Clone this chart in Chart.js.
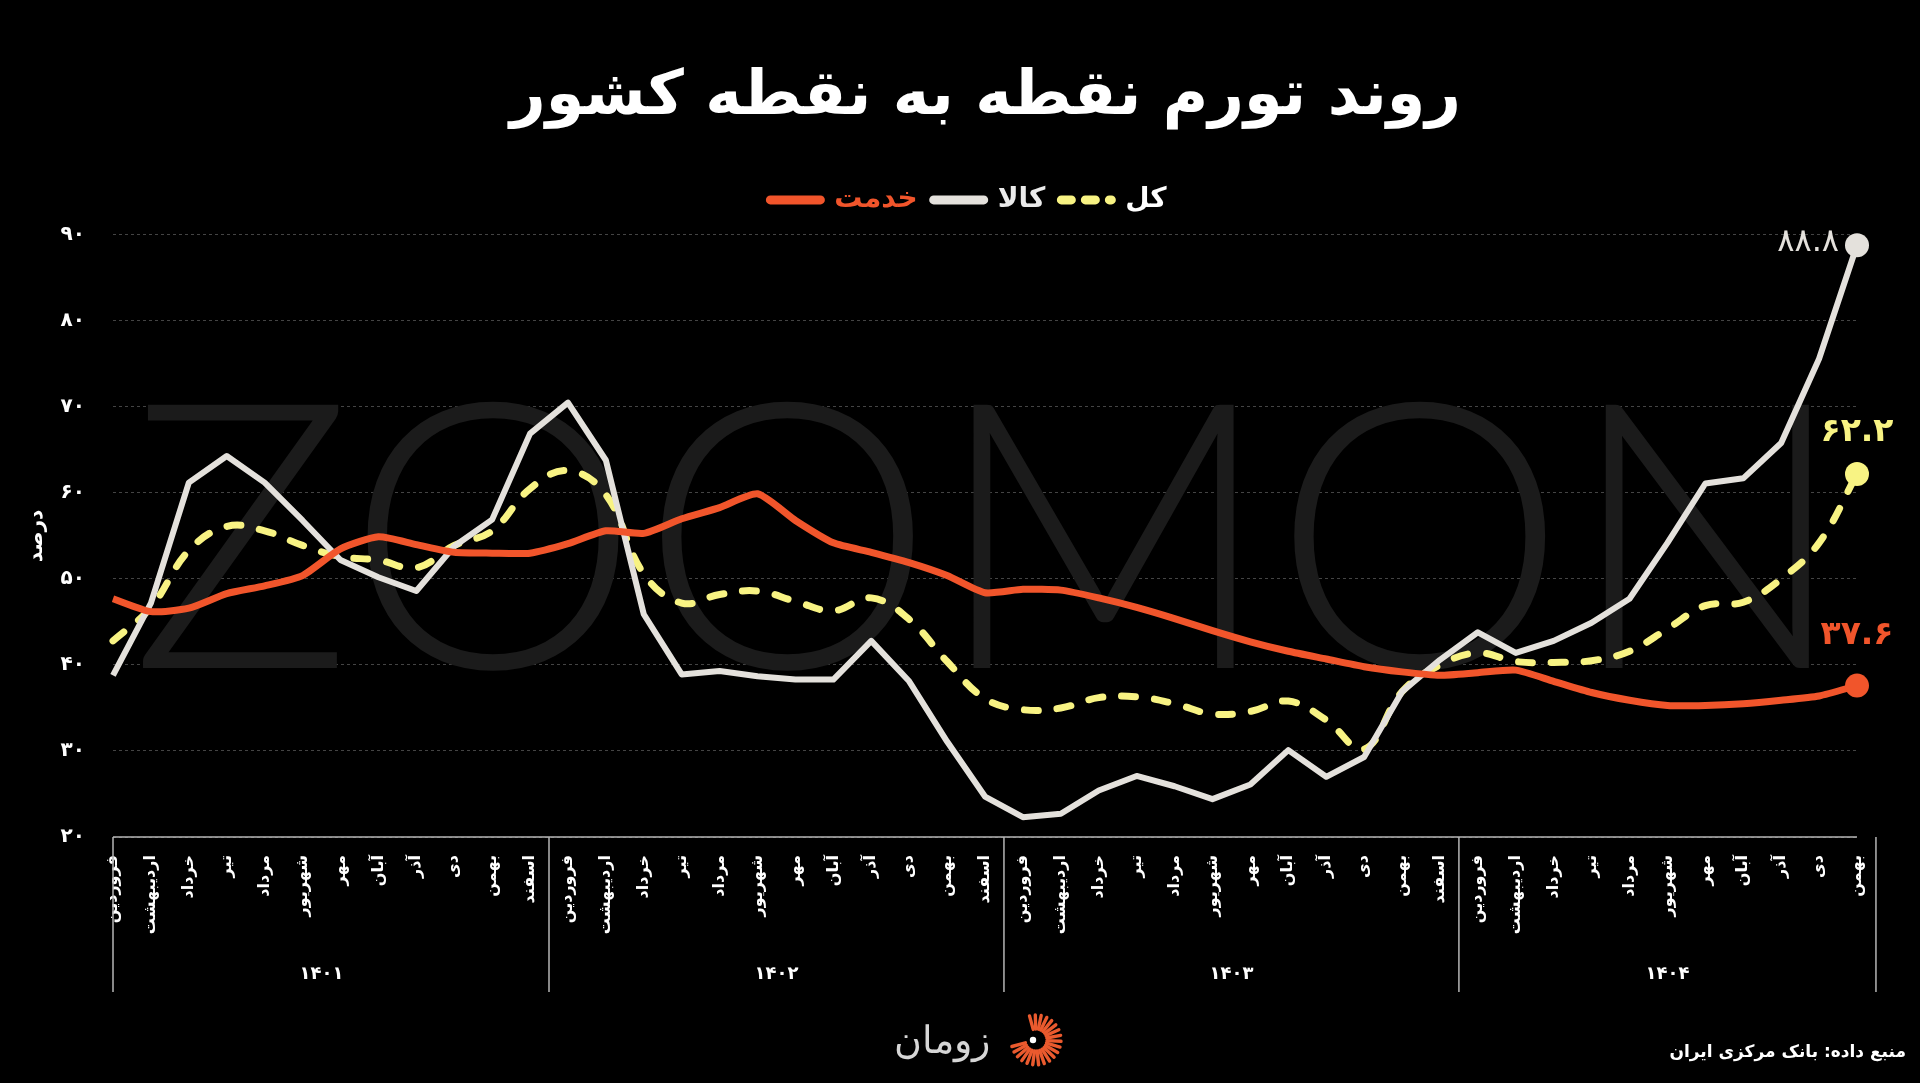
<!DOCTYPE html>
<html lang="fa">
<head>
<meta charset="utf-8">
<script src="https://cdn.jsdelivr.net/npm/chart.js@4.4.1/dist/chart.umd.min.js"></script>
<style>
  html, body { margin: 0; padding: 0; background: #000; overflow: hidden; }
  #wrap { position: relative; width: 1920px; height: 1083px; overflow: hidden; }
  canvas { display: block; }
  .logo { position: absolute; left: 894px; top: 1010px; height: 60px; display: flex; align-items: center; gap: 18px; }
  .logo span { font-family: 'DejaVu Sans', sans-serif; font-weight: 300; font-size: 38px; color: #d6d6d6; }
  .source { position: absolute; right: 14px; top: 1041px; white-space: nowrap; direction: rtl; font-family: 'DejaVu Sans', sans-serif; font-weight: bold; font-size: 17px; color: #fff; }
</style>
</head>
<body>
<div id="wrap">
  <canvas id="chart" width="1920" height="1083"></canvas>
  <div class="logo"><span>زومان</span><svg id="logoIcon" width="56" height="56" viewBox="-28 -28 56 56"></svg></div>
  <div class="source">منبع داده: بانک مرکزی ایران</div>
</div>
<script>
// سال‌ها و ماه‌ها
const years = ['۱۴۰۱', '۱۴۰۲', '۱۴۰۳', '۱۴۰۴'];
const monthsPerYear = [12, 12, 12, 11];
const months = ['فروردین', 'اردیبهشت', 'خرداد', 'تیر', 'مرداد', 'شهریور', 'مهر', 'آبان', 'آذر', 'دی', 'بهمن', 'اسفند'];

// تورم نقطه به نقطه (درصد)
const serviceValues = [
  47.7, 46.2, 46.6, 48.3, 49.2, 50.4, 53.5, 54.9, 54.0, 53.1, 53.0, 53.0,
  54.1, 55.6, 55.3, 57.0, 58.3, 59.9, 56.8, 54.2, 53.1, 51.9, 50.4, 48.4,
  48.8, 48.7, 47.8, 46.7, 45.4, 44.0, 42.7, 41.6, 40.7, 39.8, 39.2, 38.8,
  39.1, 39.4, 38.1, 36.8, 35.9, 35.3, 35.3, 35.5, 35.9, 36.4, 37.6
];
const goodsValues = [
  38.8, 47.2, 61.2, 64.3, 61.2, 56.8, 52.2, 50.2, 48.6, 53.8, 56.9, 66.9,
  70.5, 63.8, 45.9, 38.9, 39.3, 38.7, 38.3, 38.3, 42.8, 38.1, 31.1, 24.7,
  22.3, 22.7, 25.4, 27.1, 25.9, 24.4, 26.1, 30.1, 27.0, 29.3, 36.9, 40.6,
  43.8, 41.4, 42.8, 44.9, 47.7, 54.2, 61.1, 61.7, 65.8, 75.6, 88.8
];
const totalValues = [
  42.8, 46.7, 53.3, 56.1, 55.6, 53.9, 52.6, 52.2, 51.3, 53.9, 55.6, 60.5,
  62.6, 59.8, 50.6, 47.2, 48.2, 48.6, 47.4, 46.3, 47.8, 45.3, 40.4, 36.1,
  34.8, 35.0, 36.2, 36.3, 35.5, 34.3, 34.6, 35.8, 33.6, 30.2, 36.9, 40.0,
  41.4, 40.4, 40.3, 40.5, 41.6, 44.2, 46.9, 47.3, 50.0, 54.2, 62.2
];
const yTicks = [20, 30, 40, 50, 60, 70, 80, 90];

const toFa = s => String(s).replace(/\d/g, d => '۰۱۲۳۴۵۶۷۸۹'[d]);

const labels = [];
monthsPerYear.forEach(function(n) {
  for (let m = 0; m < n; m++) labels.push(months[m]);
});
const lastIndex = labels.length - 1;

const FONT = "'DejaVu Sans', sans-serif";
Chart.defaults.font.family = FONT;
Chart.defaults.color = '#fff';

// واترمارک پشت نمودار
const watermark = {
  id: 'watermark',
  beforeDatasetsDraw(chart) {
    const ctx = chart.ctx;
    ctx.save();
    ctx.font = "300 372px Lato, 'DejaVu Sans', sans-serif";
    ctx.fillStyle = '#1b1b1b';
    ctx.textAlign = 'center';
    ctx.textBaseline = 'alphabetic';
    ctx.fillText('ZOOMON', 989, 668);
    ctx.restore();
  }
};

// جابجایی عنوان و راهنما به وسط تصویر اصلی
const nudge = {
  id: 'nudge',
  afterLayout(chart) {
    chart.titleBlock.left += 57;
    chart.titleBlock.right += 57;
    chart.legend.left += 40;
    chart.legend.right += 40;
  }
};

// کادر محور افقی و سال‌ها
const yearBox = {
  id: 'yearBox',
  afterDraw(chart) {
    const x = chart.scales.x;
    const ctx = chart.ctx;
    const half = (x.getPixelForValue(1) - x.getPixelForValue(0)) / 2;
    ctx.save();
    ctx.strokeStyle = '#b5b5b5';
    ctx.lineWidth = 1.5;
    ctx.beginPath();
    ctx.moveTo(x.left, x.top);
    ctx.lineTo(x.right, x.top);
    let start = 0;
    const edges = [x.left];
    monthsPerYear.forEach(function(n, i) {
      const first = x.getPixelForValue(start);
      const last = x.getPixelForValue(start + n - 1);
      edges.push(last + half);
      ctx.font = 'bold 18px ' + FONT;
      ctx.fillStyle = '#fff';
      ctx.textAlign = 'center';
      ctx.textBaseline = 'middle';
      ctx.fillText(years[i], (first + last) / 2, 974);
      start += n;
    });
    edges.forEach(function(px) {
      ctx.moveTo(px, x.top);
      ctx.lineTo(px, 992);
    });
    ctx.stroke();
    ctx.restore();
  }
};

// برچسب مقدار آخر هر سری
const endLabels = {
  id: 'endLabels',
  afterDatasetsDraw(chart) {
    const ctx = chart.ctx;
    ctx.save();
    chart.data.datasets.forEach(function(ds, i) {
      const pt = chart.getDatasetMeta(i).data[lastIndex];
      const v = toFa(ds.data[lastIndex].toFixed(1));
      ctx.fillStyle = ds.borderColor;
      ctx.textBaseline = 'middle';
      if (ds.endPos === 'left') {
        ctx.font = '32px ' + FONT;
        ctx.textAlign = 'right';
        ctx.fillText(v, pt.x - 18, pt.y - 3);
      } else {
        ctx.font = 'bold 33px ' + FONT;
        ctx.textAlign = 'center';
        ctx.fillText(v, pt.x, pt.y - ds.endGap);
      }
    });
    ctx.restore();
  }
};

const ctx = document.getElementById('chart');
new Chart(ctx, {
  type: 'line',
  data: {
    labels: labels,
    datasets: [{
      label: 'خدمت',
      data: serviceValues,
      borderColor: '#f1552b',
      backgroundColor: '#f1552b',
      legendColor: '#f1552b',
      borderWidth: 7,
      tension: 0.2,
      endPos: 'top',
      endGap: 50
    }, {
      label: 'کالا',
      data: goodsValues,
      borderColor: '#e4e1dc',
      backgroundColor: '#e4e1dc',
      legendColor: '#ebebeb',
      borderWidth: 6,
      tension: 0,
      endPos: 'left'
    }, {
      label: 'کل',
      data: totalValues,
      borderColor: '#f8f383',
      backgroundColor: '#f8f383',
      legendColor: '#ffffff',
      borderWidth: 7,
      borderDash: [14, 19],
      borderCapStyle: 'round',
      tension: 0.4,
      endPos: 'top',
      endGap: 42
    }].map(function(ds) {
      return Object.assign({
        fill: false,
        clip: false,
        borderJoinStyle: 'round',
        pointRadius: c => c.dataIndex === lastIndex ? 12 : 0,
        pointHoverRadius: c => c.dataIndex === lastIndex ? 12 : 0,
        pointBorderWidth: 0,
        pointBackgroundColor: ds.borderColor
      }, ds);
    })
  },
  options: {
    responsive: false,
    animation: false,
    events: [],
    layout: { padding: { top: 52, right: 63, bottom: 91, left: 0 } },
    plugins: {
      title: {
        display: true,
        text: 'روند تورم نقطه به نقطه کشور',
        color: '#fff',
        font: { size: 62, weight: 'bold', lineHeight: 1.16 },
        padding: { top: 10, bottom: 36 }
      },
      subtitle: {
        display: true,
        text: ' ',
        weight: 500,
        font: { size: 1, lineHeight: 1 },
        padding: { top: 10, bottom: 0 }
      },
      legend: {
        display: true,
        labels: {
          usePointStyle: true,
          pointStyle: 'line',
          pointStyleWidth: 50,
          padding: 16,
          font: { size: 28, weight: 'bold' },
          generateLabels: function(chart) {
            return chart.data.datasets.map(function(ds, i) {
              return {
                text: ds.label,
                fontColor: ds.legendColor,
                strokeStyle: ds.borderColor,
                fillStyle: ds.borderColor,
                lineWidth: 9,
                lineCap: 'round',
                lineDash: ds.borderDash ? [10, 14] : [],
                pointStyle: 'line',
                hidden: false,
                datasetIndex: i
              };
            });
          }
        }
      },
      tooltip: { enabled: false }
    },
    scales: {
      x: {
        grid: { display: false },
        border: { display: false },
        ticks: {
          autoSkip: false,
          minRotation: 90,
          maxRotation: 90,
          padding: 10,
          color: '#fff',
          font: { size: 16, weight: 'bold' }
        },
        afterFit: function(scale) { scale.height = 155; }
      },
      y: {
        min: 20,
        max: 90,
        afterBuildTicks: function(scale) {
          scale.ticks = yTicks.map(v => ({ value: v }));
        },
        grid: { color: '#444', lineWidth: 1, drawTicks: false },
        border: { display: false, dash: [3, 3] },
        ticks: {
          padding: 28,
          color: '#fff',
          font: { size: 20, weight: 'bold' },
          callback: v => toFa(v)
        },
        title: {
          display: true,
          text: 'درصد',
          color: '#fff',
          font: { size: 20, weight: 'bold', lineHeight: 1.2 },
          padding: { top: 25, bottom: 0 }
        },
        afterFit: function(scale) { scale.width = 113; }
      }
    }
  },
  plugins: [watermark, nudge, yearBox, endLabels]
});

// آیکون لوگو
const svg = document.getElementById('logoIcon');
let marks = '';
for (let a = -105; a <= 165; a += 13.5) {
  const r = a * Math.PI / 180;
  const x1 = Math.cos(r) * 11, y1 = Math.sin(r) * 11;
  const x2 = Math.cos(r) * 25, y2 = Math.sin(r) * 25;
  marks += '<line x1="' + x1.toFixed(1) + '" y1="' + y1.toFixed(1) + '" x2="' + x2.toFixed(1) + '" y2="' + y2.toFixed(1) + '" stroke="#ea5a2e" stroke-width="3.4" stroke-linecap="round"/>';
}
marks += '<circle cx="-3" cy="0" r="3.2" fill="#fff"/>';
svg.innerHTML = marks;
</script>
</body>
</html>
